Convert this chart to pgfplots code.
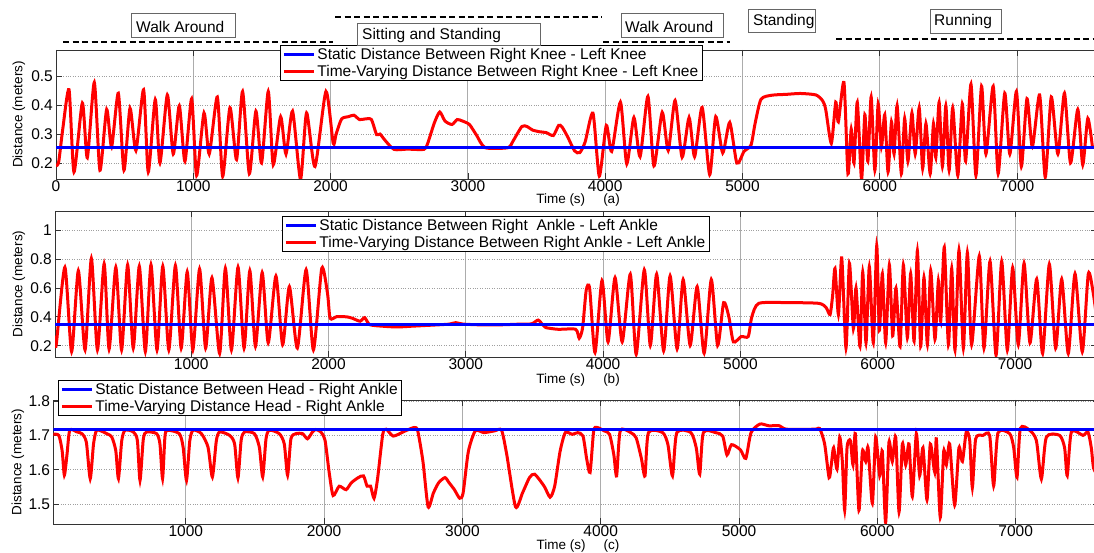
\documentclass[border=0pt]{standalone}
\usepackage{fontspec}
\setmainfont{Liberation Sans}
\usepackage{pgfplots}
\usepackage{pgfplotstable}
\pgfplotsset{compat=1.18}
\pgfplotstableread{
t v
0 0.19
20 0.205
50 0.32
95 0.453
131 0.169
192 0.407
228 0.218
279 0.478
320 0.175
369 0.385
405 0.256
454 0.441
495 0.175
539 0.389
582 0.243
638 0.453
672 0.169
723 0.419
757 0.2
811 0.435
854 0.231
898 0.398
939 0.206
988 0.422
1024 0.157
1078 0.373
1116 0.231
1175 0.428
1214 0.154
1267 0.391
1315 0.212
1359 0.447
1408 0.163
1456 0.379
1497 0.2
1546 0.447
1582 0.194
1636 0.36
1675 0.231
1723 0.379
1781 0.144
1825 0.373
1886 0.188
1966 0.447
2019 0.268
2040 0.30
2080 0.352
2130 0.36
2170 0.365
2210 0.35
2250 0.352
2297 0.35
2335 0.298
2360 0.30
2399 0.277
2463 0.247
2560 0.248
2679 0.247
2705 0.265
2756 0.339
2795 0.376
2833 0.345
2884 0.333
2922 0.35
2960 0.345
3011 0.333
3063 0.296
3126 0.253
3291 0.253
3330 0.277
3393 0.326
3431 0.326
3470 0.314
3521 0.308
3571 0.305
3622 0.295
3661 0.33
3685 0.325
3726 0.291
3777 0.242
3815 0.236
3854 0.273
3911 0.372
3957 0.155
4008 0.33
4047 0.24
4111 0.41
4157 0.197
4209 0.357
4254 0.222
4311 0.43
4355 0.19
4415 0.375
4459 0.243
4509 0.416
4560 0.22
4611 0.357
4651 0.222
4706 0.392
4761 0.16
4805 0.36
4856 0.235
4907 0.34
4959 0.2
5011 0.24
5062 0.262
5091 0.335
5135 0.42
5215 0.434
5320 0.437
5422 0.44
5534 0.435
5582 0.416
5606 0.385
5647 0.268
5679 0.41
5698 0.342
5739 0.478
5768 0.163
5792 0.317
5812 0.2
5836 0.41
5867 0.144
5891 0.367
5913 0.206
5937 0.428
5964 0.175
5988 0.404
6012 0.256
6036 0.367
6060 0.169
6085 0.342
6104 0.231
6126 0.398
6157 0.163
6181 0.354
6205 0.206
6234 0.373
6258 0.231
6287 0.391
6312 0.181
6336 0.336
6367 0.163
6391 0.336
6408 0.219
6432 0.41
6456 0.188
6481 0.398
6505 0.175
6531 0.391
6568 0.157
6601 0.404
6625 0.206
6664 0.472
6700 0.157
6741 0.465
6773 0.231
6826 0.465
6862 0.163
6910 0.441
6947 0.231
6995 0.447
7031 0.188
7072 0.422
7111 0.256
7164 0.435
7205 0.151
7249 0.428
7297 0.231
7345 0.441
7389 0.2
7442 0.385
7478 0.194
7515 0.354
7550 0.25
}\dataA
\pgfplotstableread{
t v
8 0.268
17 0.207
80 0.744
129 0.159
178 0.72
227 0.171
273 0.805
317 0.171
366 0.768
402 0.176
451 0.744
493 0.171
537 0.761
578 0.183
622 0.751
666 0.159
707 0.761
751 0.171
793 0.751
837 0.171
885 0.756
927 0.183
971 0.712
1012 0.171
1061 0.732
1105 0.183
1151 0.671
1207 0.146
1249 0.737
1293 0.171
1341 0.744
1385 0.183
1427 0.72
1468 0.195
1517 0.707
1561 0.22
1617 0.683
1666 0.207
1715 0.61
1773 0.183
1837 0.727
1890 0.171
1951 0.737
1993 0.561
2012 0.39
2061 0.402
2135 0.40
2175 0.39
2230 0.37
2263 0.395
2301 0.346
2400 0.335
2500 0.33
2600 0.335
2700 0.34
2800 0.345
2880 0.35
2927 0.36
2980 0.35
3100 0.345
3250 0.345
3400 0.35
3480 0.352
3527 0.378
3560 0.345
3582 0.326
3672 0.314
3800 0.314
3826 0.252
3851 0.326
3877 0.585
3902 0.598
3941 0.153
3992 0.652
4036 0.227
4087 0.672
4139 0.227
4198 0.696
4241 0.141
4300 0.726
4344 0.202
4390 0.696
4441 0.165
4488 0.684
4539 0.178
4583 0.659
4634 0.202
4685 0.61
4736 0.148
4788 0.659
4834 0.202
4878 0.499
4916 0.4
4949 0.227
5006 0.264
5057 0.264
5083 0.4
5134 0.494
5339 0.499
5570 0.494
5624 0.465
5653 0.416
5672 0.551
5689 0.736
5714 0.416
5738 0.809
5769 0.183
5794 0.772
5823 0.318
5842 0.6
5871 0.195
5891 0.711
5915 0.22
5939 0.748
5968 0.22
5993 0.895
6012 0.306
6034 0.699
6058 0.22
6085 0.76
6109 0.269
6133 0.6
6163 0.195
6187 0.76
6216 0.256
6240 0.699
6265 0.232
6289 0.858
6313 0.195
6337 0.674
6362 0.207
6386 0.723
6417 0.244
6442 0.65
6459 0.367
6485 0.883
6515 0.207
6539 0.736
6563 0.17
6592 0.863
6624 0.183
6653 0.846
6684 0.207
6740 0.822
6774 0.183
6818 0.785
6862 0.134
6903 0.785
6944 0.17
6983 0.741
7024 0.207
7066 0.772
7109 0.22
7158 0.662
7201 0.146
7250 0.765
7296 0.183
7340 0.662
7388 0.146
7437 0.699
7490 0.158
7534 0.699
7570 0.564
7600 0.35
}\dataB
\pgfplotstableread{
t v
42 1.703
82 1.70
106 1.655
122 1.584
141 1.644
161 1.715
213 1.71
249 1.705
281 1.68
309 1.574
333 1.675
357 1.715
429 1.705
465 1.695
494 1.655
513 1.574
537 1.685
561 1.715
621 1.71
650 1.685
669 1.569
693 1.69
717 1.71
789 1.705
813 1.675
832 1.574
849 1.695
866 1.715
953 1.705
981 1.665
1005 1.569
1029 1.685
1053 1.715
1113 1.705
1161 1.665
1192 1.579
1221 1.685
1245 1.71
1317 1.70
1353 1.675
1377 1.576
1400 1.685
1424 1.71
1496 1.705
1532 1.665
1556 1.579
1580 1.69
1604 1.715
1676 1.705
1712 1.675
1736 1.584
1760 1.69
1796 1.705
1844 1.705
1880 1.69
1916 1.71
1940 1.717
1976 1.71
2007 1.685
2036 1.594
2065 1.525
2109 1.552
2159 1.542
2197 1.562
2247 1.577
2285 1.582
2311 1.552
2336 1.552
2361 1.517
2386 1.572
2424 1.703
2449 1.718
2500 1.698
2576 1.711
2651 1.723
2677 1.713
2715 1.623
2752 1.492
2790 1.532
2828 1.562
2874 1.577
2904 1.562
2942 1.542
2980 1.517
3005 1.532
3043 1.653
3093 1.713
3156 1.708
3232 1.713
3283 1.715
3321 1.643
3384 1.492
3434 1.532
3485 1.577
3523 1.587
3591 1.552
3634 1.52
3667 1.552
3706 1.653
3744 1.708
3795 1.703
3834 1.708
3872 1.698
3898 1.633
3923 1.592
3949 1.713
3974 1.723
4026 1.713
4064 1.703
4095 1.643
4115 1.582
4141 1.713
4217 1.708
4256 1.693
4294 1.633
4320 1.582
4345 1.708
4448 1.708
4486 1.673
4519 1.582
4550 1.708
4652 1.708
4691 1.663
4716 1.587
4742 1.708
4831 1.708
4882 1.698
4913 1.643
4946 1.673
5010 1.658
5049 1.633
5087 1.708
5151 1.733
5215 1.728
5292 1.728
5343 1.718
5548 1.718
5583 1.72
5619 1.675
5651 1.577
5667 1.614
5684 1.664
5708 1.602
5728 1.695
5747 1.624
5764 1.482
5781 1.664
5805 1.685
5824 1.614
5841 1.705
5867 1.482
5892 1.654
5916 1.624
5933 1.664
5964 1.502
5988 1.695
6017 1.583
6036 1.654
6060 1.446
6084 1.68
6108 1.624
6133 1.695
6157 1.477
6181 1.675
6205 1.614
6229 1.675
6253 1.522
6282 1.705
6306 1.583
6330 1.664
6359 1.512
6383 1.675
6415 1.593
6427 1.69
6455 1.461
6480 1.654
6499 1.614
6523 1.675
6559 1.497
6590 1.664
6615 1.624
6643 1.71
6668 1.685
6687 1.548
6711 1.69
6764 1.70
6812 1.70
6841 1.553
6872 1.707
6957 1.705
6986 1.664
7010 1.578
7034 1.72
7101 1.715
7150 1.685
7186 1.573
7222 1.695
7318 1.70
7354 1.664
7373 1.583
7403 1.71
7487 1.70
7523 1.71
7547 1.664
7564 1.604
7600 1.58
}\dataC
\pgfplotsset{
  every axis/.append style={
    scale only axis, anchor=south west,
    axis line style={black!80, line width=0.8pt},
    tick align=inside, major tick length=6pt,
    tick style={black!80, line width=0.8pt},
    xtick={0,1000,...,7000},
    grid=major,
    x grid style={gray!65, line width=0.9pt},
    y grid style={gray!75, dotted, line width=0.9pt},
    tick label style={font=\fontsize{15.5}{15.5}\selectfont, inner sep=1pt},
    xticklabel style={yshift=-0.5pt},
    yticklabel style={xshift=-2pt},
    /pgf/number format/assume math mode=true,
    /pgf/number format/1000 sep={},
    scaled ticks=false,
    legend cell align=left,
    reverse legend,
    legend image code/.code={\draw[#1, line width=3pt] (0pt,0pt) -- (30pt,0pt);},
    legend style={font=\fontsize{15.5}{18}\selectfont, draw=black, line width=0.8pt,
      anchor=north west, row sep=0pt, inner xsep=2pt, inner ysep=1pt},
  },
  redline/.style={red, line width=3pt, smooth, tension=0.4},
  blueline/.style={blue, line width=3pt},
}
\begin{document}
\begin{tikzpicture}
% (a)
\begin{axis}[at={(56pt,374pt)}, width=1043.5pt, height=129pt,
  xmin=0, xmax=7600, ymin=0.145, ymax=0.59, ytick={0.2,0.3,0.4,0.5},
  legend style={at={(0.2147,1.039)}}]
\addplot[redline] table[x=t,y=v]{\dataA};
\addlegendentry{Time-Varying Distance Between Right Knee - Left Knee}
\addplot[blueline] coordinates {(0,0.252) (7600,0.252)};
\addlegendentry{Static Distance Between Right Knee - Left Knee}
\end{axis}
% (b)
\begin{axis}[at={(55pt,196pt)}, width=1042.4pt, height=146pt,
  xmin=8, xmax=7600, ymin=0.122, ymax=1.134, ytick={0.2,0.4,0.6,0.8,1},
  legend style={at={(0.2178,0.966)}}]
\addplot[redline] table[x=t,y=v]{\dataB};
\addlegendentry{Time-Varying Distance Between Right Ankle - Left Ankle}
\addplot[blueline] coordinates {(0,0.349) (7600,0.349)};
\addlegendentry{Static Distance Between Right\ \ Ankle - Left Ankle}
\end{axis}
% (c)
\begin{axis}[at={(53.3pt,29pt)}, width=1045.3pt, height=124pt,
  xmin=42, xmax=7600, ymin=1.442, ymax=1.803, ytick={1.5,1.6,1.7,1.8},
  legend style={at={(0.0045,1.161)}}]
\addplot[redline] table[x=t,y=v]{\dataC};
\addlegendentry{Time-Varying Distance Head - Right Ankle}
\addplot[blueline] coordinates {(0,1.717) (7600,1.717)};
\addlegendentry{Static Distance Between Head - Right Ankle}
\end{axis}
\begin{scope}[x=1pt,y=1pt]
% axis labels
\begin{scope}[every node/.style={font=\fontsize{13.5}{14}\selectfont, inner sep=0pt}]
\node[rotate=90] at (19,438.5) {Distance (meters)};
\node[rotate=90] at (19,269) {Distance (meters)};
\node[rotate=90] at (18,91) {Distance (meters)};
\node at (578,353) {Time (s)\hspace{18pt}(a)};
\node at (578,173) {Time (s)\hspace{18pt}(b)};
\node at (578,7) {Time (s)\hspace{18pt}(c)};
\end{scope}
% activity annotations
\begin{scope}[every node/.style={font=\fontsize{15.5}{16}\selectfont, anchor=west, inner sep=0pt}]
\draw[black!60, line width=1pt] (131,515) rectangle (235,539);
\node at (136,526.5) {Walk Around};
\draw[line width=1.6pt, dash pattern=on 6pt off 3.5pt] (63,511) -- (333,511);
\draw[black!60, line width=1pt] (357,507) rectangle (540,529);
\node at (362,517.5) {Sitting and Standing};
\draw[line width=1.6pt, dash pattern=on 6pt off 3.5pt] (335,536) -- (602,536);
\draw[black!60, line width=1pt] (621,515) rectangle (723,539);
\node at (625,526.5) {Walk Around};
\draw[line width=1.6pt, dash pattern=on 6pt off 3.5pt] (603,511) -- (730,511);
\draw[black!60, line width=1pt] (748,520) rectangle (815,543);
\node at (753,531.5) {Standing};
\draw[black!60, line width=1pt] (930,519) rectangle (1001,543);
\node at (934,531) {Running};
\draw[line width=1.6pt, dash pattern=on 6pt off 3.5pt] (836,514) -- (1100,514);
\end{scope}
\pgfresetboundingbox
\useasboundingbox (0,0) rectangle (1094,553);
\end{scope}
\end{tikzpicture}
\end{document}
